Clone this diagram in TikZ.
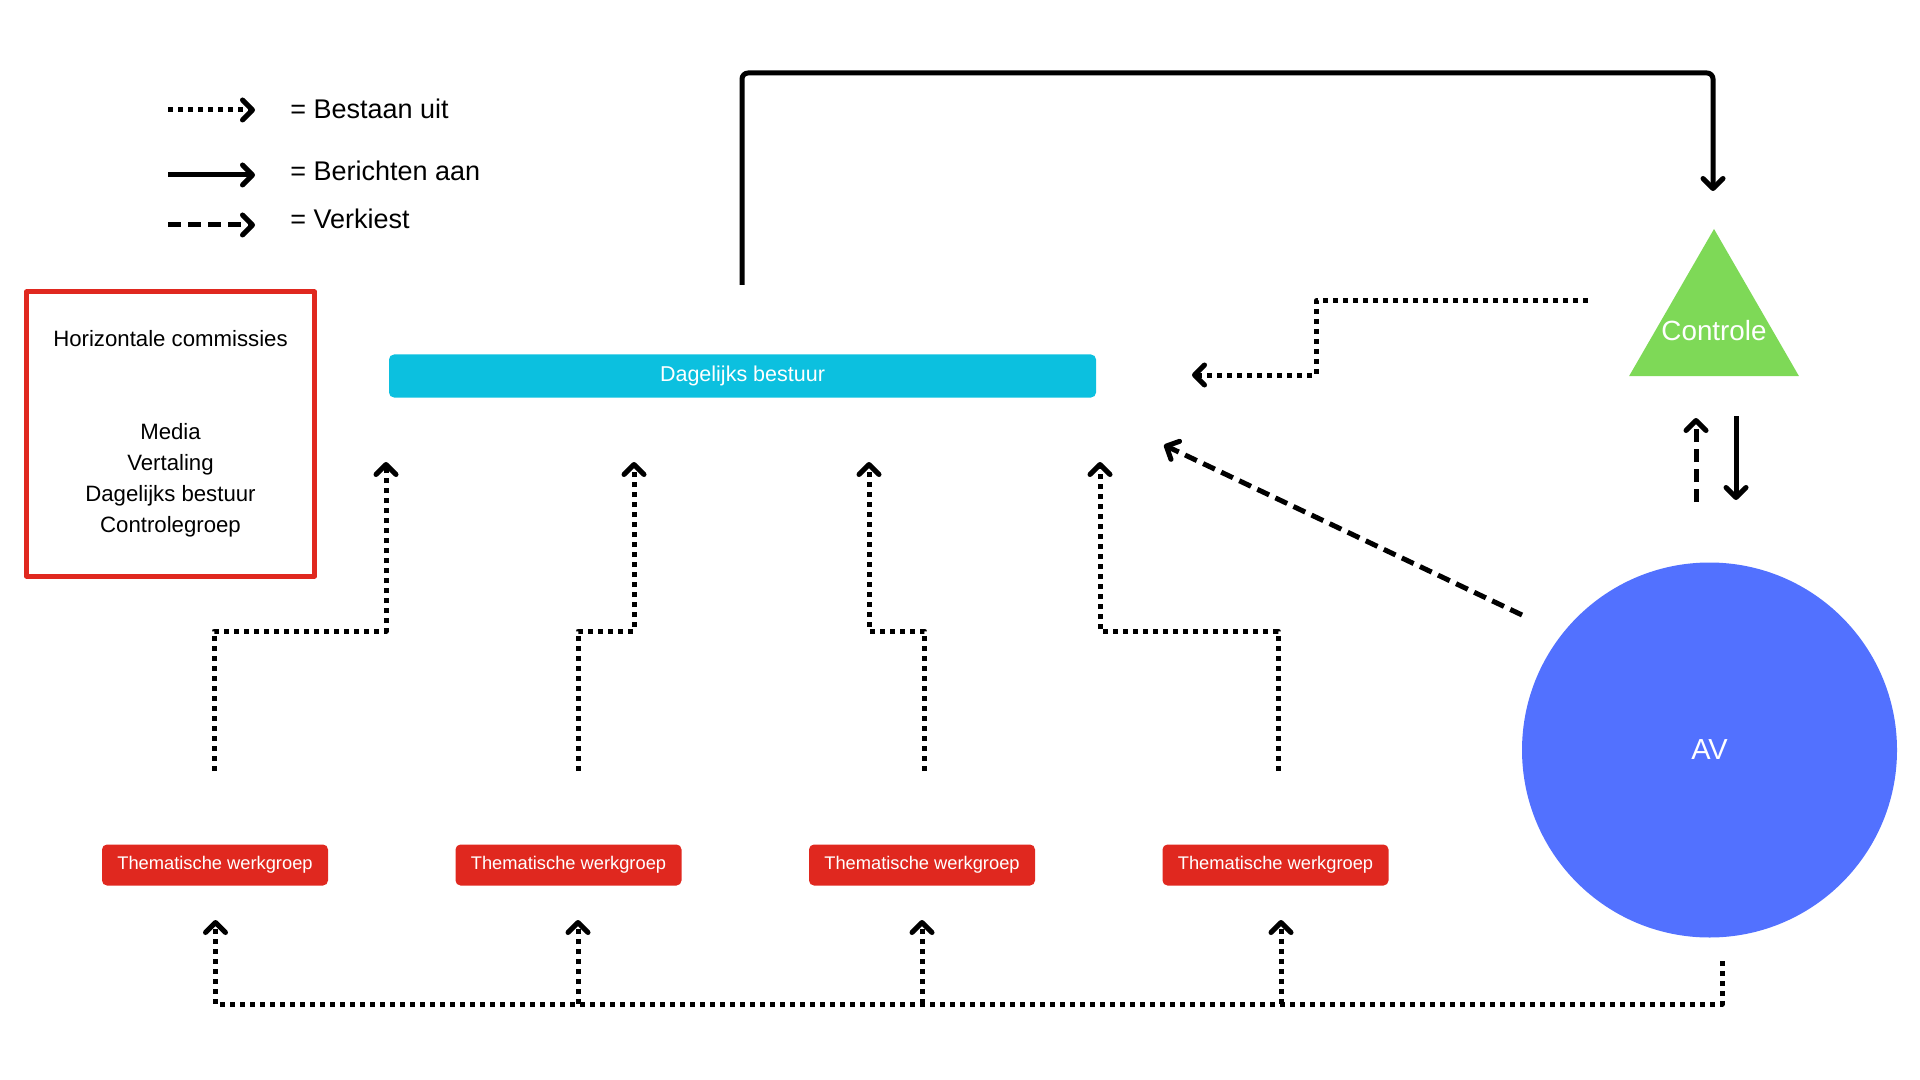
\documentclass[tikz,border=0pt]{standalone}
\usepackage{fontspec}
\setmainfont{Liberation Sans}
\usetikzlibrary{arrows.meta,shapes.geometric}
\definecolor{rood}{HTML}{E0281F}
\definecolor{cyaan}{HTML}{0CC0DF}
\definecolor{groen}{HTML}{7ED957}
\definecolor{blauw}{HTML}{5271FF}
\begin{document}
\begin{tikzpicture}[x=0.5pt, y=-0.5pt, line join=round,
	kop/.style={-{Straight Barb[length=5pt, width=10pt, round]}},
	bestaat/.style={kop, line width=2.5pt, dash pattern=on 2.5pt off 2.5pt},
	bericht/.style={kop, line width=2.5pt},
	verkiest/.style={kop, line width=2.5pt, dash pattern=on 6.5pt off 3.5pt},
	legtekst/.style={anchor=base west, inner sep=0pt, font=\fontsize{13.5}{16}\selectfont},
	werkgroep/.style={fill=rood, text=white, rounded corners=2.5pt, minimum width=113pt, minimum height=20.5pt, inner sep=0pt, font=\fontsize{9.15}{11}\selectfont}]
	\useasboundingbox (0,0) rectangle (1920,1080);
	
	\foreach \y/\b/\s/\t/\n in {110/118.5/bestaat/{= Bestaan uit}/B, 175/180.5/bericht/{= Berichten aan}/C, 225/228.5/verkiest/{= Verkiest}/D} {
		\coordinate (L\n) at (168,\y);
		\coordinate (L\n') at (255,\y);
		\draw[\s] (L\n) -- (L\n');
		\node[legtekst] (T\n) at (290,\b) {\t};
	}
	
	\node[draw=rood, line width=2.5pt, minimum width=144pt, minimum height=142pt, align=center, font=\fontsize{11.1}{15.5}\selectfont] (commissies) at (170.5,434) {Horizontale commissies\\[31pt] Media\\ Vertaling\\ Dagelijks bestuur\\ Controlegroep};
	
	\node[fill=cyaan, text=white, rounded corners=2.5pt, minimum width=353.5pt, minimum height=21.5pt, inner sep=0pt, font=\fontsize{10.75}{13}\selectfont] (db) at (742.5,376) {Dagelijks bestuur};
	
	\node[regular polygon, regular polygon sides=3, fill=groen, minimum size=98pt, inner sep=0pt] (controle) at (1714,327) {};
	\node[text=white, inner sep=0pt, font=\fontsize{13.9}{16}\selectfont] (controletekst) at (1714,331) {Controle};
	
	\node[circle, fill=blauw, minimum size=187.5pt, inner sep=0pt, text=white, font=\fontsize{14.5}{17}\selectfont] (av) at (1709.5,750) {AV};
	
	\foreach \x/\n in {215/1, 568.5/2, 922/3, 1275.5/4}
		\node[werkgroep] (w\n) at (\x,865) {Thematische werkgroep};
	
	\foreach \a/\b/\n in {214/386/1, 578/634/2, 924.5/869/3, 1278/1100/4} {
		\coordinate (W\n) at (\a,771);
		\coordinate (K\n) at (\b,631);
		\coordinate (D\n) at (\b,462);
		\draw[bestaat] (W\n) |- (K\n) -- (D\n);
	}
	
	\coordinate (A) at (1722,961);
	\foreach \x/\n in {215.5/1, 578/2, 922/3, 1281/4} {
		\coordinate (S\n) at (\x,1004);
		\coordinate (T\n) at (\x,920);
	}
	\draw[bestaat] (A) |- (S1) -- (T1);
	\foreach \n in {2,3,4}
		\draw[bestaat] (S\n) -- (T\n);
	
	\coordinate (P) at (742,285);
	\coordinate (Q) at (1713,73);
	\coordinate (R) at (1713,191);
	\draw[bericht, rounded corners=3pt] (P) |- (Q) -- (R);
	
	\coordinate (E) at (1588,301);
	\coordinate (F) at (1316,375);
	\coordinate (G) at (1192,375);
	\draw[bestaat] (E) -| (F) -- (G);
	
	\coordinate (H) at (1522,615);
	\coordinate (I) at (1164,445);
	\draw[verkiest] (H) -- (I);
	
	\coordinate (U) at (1696,502);
	\coordinate (U') at (1696,418);
	\draw[verkiest] (U) -- (U');
	\coordinate (V) at (1736,416);
	\coordinate (V') at (1736,500);
	\draw[bericht] (V) -- (V');
	
\end{tikzpicture}
\end{document}
